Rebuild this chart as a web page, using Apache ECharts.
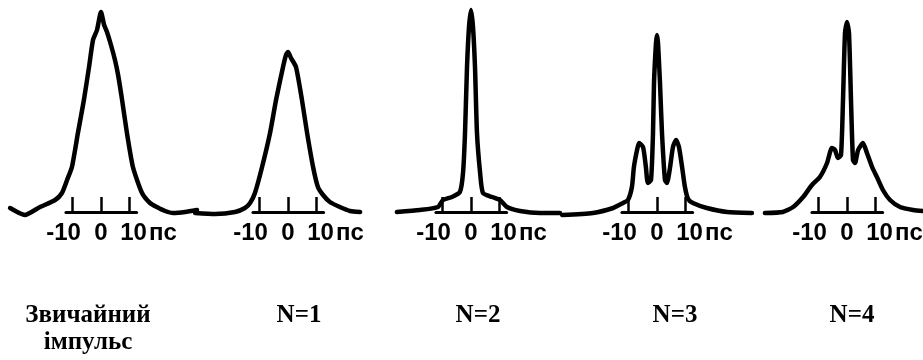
<!DOCTYPE html>
<html>
<head>
<meta charset="utf-8">
<script src="https://cdn.jsdelivr.net/npm/echarts@6/dist/echarts.min.js"></script>
<style>
  html, body { margin: 0; padding: 0; background: #fff; }
  #chart { width: 923px; height: 360px; }
</style>
</head>
<body>
<div id="chart"></div>
<script>
// Panel captions
const categories = ['Звичайний\nімпульс', 'N=1', 'N=2', 'N=3', 'N=4'];

// Time ruler under each pulse (ps)
const tickValues = [-10, 0, 10];
const tickLabels = ['-10', '0', '10'];
const timeUnit = 'пс';

// Pulse intensity profiles: [time, ps; relative intensity]
const pulseOrdinary = [
  [-31.9, 0.02], [-26.7, -0.015], [-21.4, 0.025], [-16.1, 0.06], [-13.7, 0.095],
  [-11.9, 0.16], [-10.2, 0.225], [-8.1, 0.395], [-6.0, 0.56], [-4.2, 0.725],
  [-2.8, 0.86], [-1.4, 0.91], [0, 1.0], [1.1, 0.935], [2.1, 0.9], [3.5, 0.835],
  [4.9, 0.76], [6.0, 0.685], [7.4, 0.56], [9.1, 0.395], [11.2, 0.225],
  [14.4, 0.095], [17.2, 0.045], [19.6, 0.025], [22.5, 0.005], [25.3, -0.005],
  [29.5, 0], [33.7, 0.01]
];
const pulseN1 = [
  [-32.6, -0.005], [-25.6, -0.01], [-18.6, 0], [-15.1, 0.02], [-13.3, 0.045],
  [-11.6, 0.095], [-9.1, 0.225], [-6.3, 0.395], [-4.2, 0.56], [-1.75, 0.725],
  [-0.7, 0.785], [0, 0.8], [1.05, 0.77], [2.8, 0.725], [4.9, 0.56], [6.7, 0.395],
  [8.8, 0.225], [10.5, 0.125], [12.3, 0.085], [14.7, 0.05], [18.2, 0.025],
  [21.8, 0.005], [25.3, 0]
];
const pulseN2 = [
  [-26, 0], [-17.9, 0.01], [-11.6, 0.025], [-9.8, 0.06], [-6.7, 0.075],
  [-3.9, 0.1], [-2.8, 0.195], [-2.1, 0.395], [-1.4, 0.725], [-0.7, 0.925],
  [0, 1.01], [0.7, 0.925], [1.4, 0.725], [2.1, 0.395], [3.2, 0.195],
  [4.2, 0.095], [7.4, 0.075], [10.2, 0.06], [12.6, 0.025], [17.2, 0.005],
  [24.2, -0.005], [31.2, -0.005]
];
const pulseN3 = [
  [-33.3, -0.015], [-22.5, -0.005], [-15.4, 0.02], [-11.9, 0.045], [-10.2, 0.06],
  [-8.8, 0.125], [-8.1, 0.225], [-7.0, 0.31], [-6.3, 0.345], [-4.9, 0.325],
  [-3.9, 0.225], [-3.2, 0.145], [-2.1, 0.16], [-1.4, 0.395], [-1.05, 0.645],
  [-0.35, 0.845], [0, 0.885], [0.35, 0.845], [1.05, 0.645], [1.75, 0.395],
  [2.8, 0.16], [3.5, 0.145], [4.6, 0.225], [5.6, 0.325], [6.7, 0.36],
  [7.7, 0.325], [8.8, 0.225], [9.8, 0.125], [10.9, 0.065], [12.6, 0.045],
  [17.5, 0.02], [24.6, 0], [33.3, -0.005]
];
const pulseN4 = [
  [-28.8, -0.005], [-22.5, 0], [-18.9, 0.025], [-15.4, 0.075], [-12.3, 0.135],
  [-9.5, 0.175], [-7.0, 0.245], [-5.3, 0.32], [-4.2, 0.31], [-3.2, 0.27],
  [-2.1, 0.285], [-1.4, 0.56], [-0.7, 0.895], [0, 0.95], [0.7, 0.895],
  [1.4, 0.56], [2.1, 0.26], [2.8, 0.245], [3.9, 0.31], [5.6, 0.345],
  [7.0, 0.295], [8.8, 0.225], [10.5, 0.175], [12.6, 0.11], [15.1, 0.06],
  [18.6, 0.025], [23.2, 0.01], [26.7, 0.005]
];
const pulses = [pulseOrdinary, pulseN1, pulseN2, pulseN3, pulseN4];

// Layout (pixels)
const PX_PER_PS = 2.85;
const panelCenters = [101, 288, 471, 657, 847];
const captionCenters = [88, 299, 478, 675, 852];
const curveRange = [-36, 36];
const rulerRange = [-12.3, 12.5];
const baselineY = 212;      // pixel row of zero intensity
const unitHeight = 200;     // pixels per unit of intensity
const yRange = [-0.05, 1.06];

const ink = '#000';
const labelFont = {
  fontFamily: 'Liberation Sans',
  fontWeight: 'bold',
  fontSize: 24,
  color: ink
};
const captionFont = {
  fontFamily: 'Liberation Serif',
  fontWeight: 'bold',
  fontSize: 25,
  lineHeight: 27,
  color: ink
};

const grid = [], xAxis = [], yAxis = [], series = [];

pulses.forEach((data, i) => {
  const c = panelCenters[i];
  // curve grid (may extend past the canvas edge, so no bound fitting)
  grid.push({
    left: c + curveRange[0] * PX_PER_PS,
    width: (curveRange[1] - curveRange[0]) * PX_PER_PS,
    top: baselineY - yRange[1] * unitHeight,
    height: (yRange[1] - yRange[0]) * unitHeight,
    containLabel: false,
    outerBoundsMode: 'none'
  });
  xAxis.push({ type: 'value', gridIndex: 2 * i, min: curveRange[0], max: curveRange[1], show: false });
  yAxis.push({ type: 'value', gridIndex: 2 * i, min: yRange[0], max: yRange[1], show: false });
  series.push({
    type: 'line',
    xAxisIndex: 2 * i,
    yAxisIndex: 2 * i,
    data: data,
    showSymbol: false,
    smooth: 0.2,
    clip: false,
    lineStyle: { color: ink, width: 4.5, join: 'round', cap: 'round' },
    z: 5,
    silent: true
  });

  // ruler grid
  grid.push({
    left: c + rulerRange[0] * PX_PER_PS,
    width: (rulerRange[1] - rulerRange[0]) * PX_PER_PS,
    top: baselineY - 30,
    height: 30,
    containLabel: false,
    outerBoundsMode: 'none'
  });
  xAxis.push({
    type: 'value',
    gridIndex: 2 * i + 1,
    min: rulerRange[0],
    max: rulerRange[1],
    position: 'bottom',
    splitLine: { show: false },
    axisLine: { show: true, onZero: false, lineStyle: { color: ink, width: 3 } },
    axisTick: { show: true, inside: true, length: 15, customValues: tickValues, lineStyle: { color: ink, width: 2.5 } },
    axisLabel: {
      show: true,
      customValues: tickValues,
      margin: 9,
      ...labelFont,
      formatter: (v) => {
        const k = tickValues.indexOf(v);
        if (k === 0) return '{neg|' + tickLabels[k] + '}';
        if (k === tickValues.length - 1) return '{pos|' + tickLabels[k] + '}{unit|' + timeUnit + '}';
        return '{mid|' + tickLabels[k] + '}';
      },
      rich: {
        neg: { ...labelFont, padding: [0, 18, 0, 0] },
        mid: { ...labelFont },
        pos: { ...labelFont, padding: [0, 0, 0, 38] },
        unit: { ...labelFont, padding: [0, 0, 0, 2] }
      }
    }
  });
  yAxis.push({ type: 'value', gridIndex: 2 * i + 1, min: 0, max: 1, show: false });
});

const title = categories.map((text, i) => ({
  text: text,
  left: captionCenters[i],
  top: 302,
  textAlign: 'center',
  padding: 0,
  textStyle: captionFont
}));

const chart = echarts.init(document.getElementById('chart'), null, { renderer: 'canvas' });
chart.setOption({
  backgroundColor: '#fff',
  animation: false,
  title: title,
  grid: grid,
  xAxis: xAxis,
  yAxis: yAxis,
  series: series
});
</script>
</body>
</html>
